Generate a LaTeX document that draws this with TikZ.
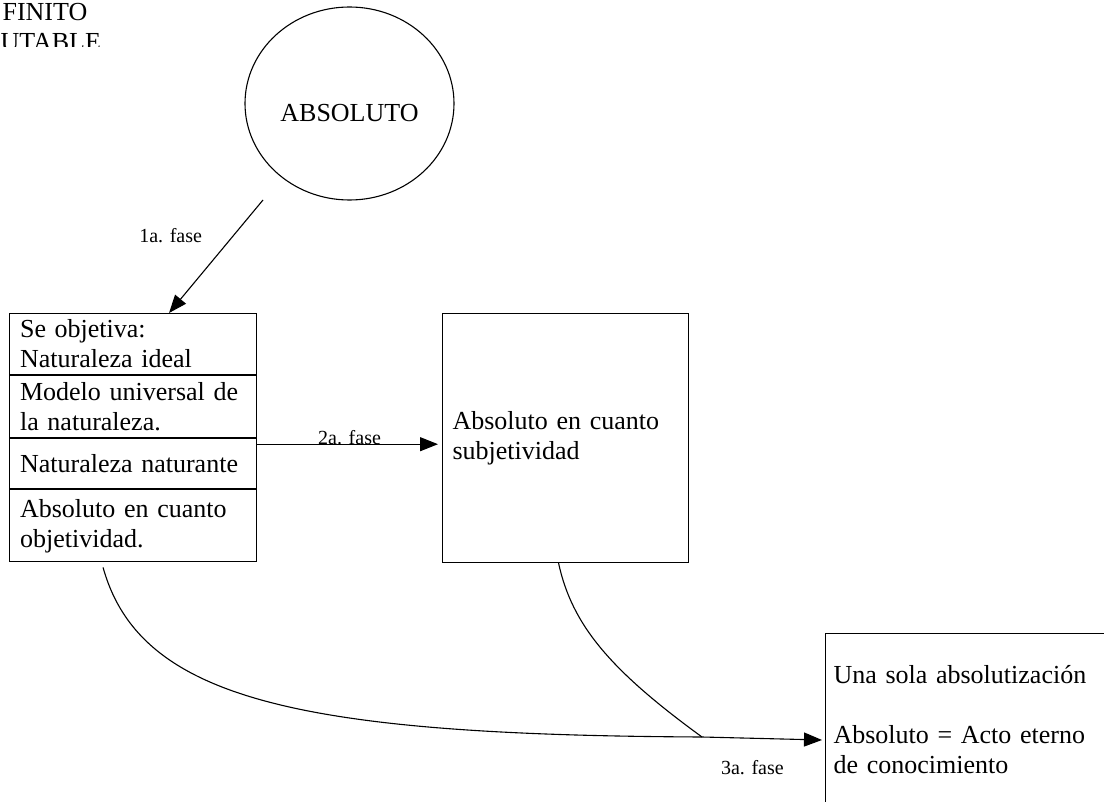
\documentclass[tikz,border=0pt]{standalone}
\usepackage{fontspec}
\setmainfont{Liberation Serif}
\usepackage{tikz}
\usetikzlibrary{positioning,arrows.meta,shapes.geometric}

\begin{document}
\begin{tikzpicture}[x=1pt,y=-1pt,line width=1.1pt,
  every node/.style={font=\fontsize{26}{30}\selectfont},
  caja/.style={draw,rectangle,align=left,inner xsep=10pt,inner ysep=0pt,text width=226pt,minimum width=247pt},
  fase/.style={font=\fontsize{20}{24}\selectfont,inner sep=0pt},
  flecha/.style={-{Triangle[length=18pt,width=14pt]}},
  node distance=0pt]
  \clip (0,0) rectangle (1104,802);
  \begin{scope}
    \clip (0,0) rectangle (200,47);
    \node[anchor=base west,inner sep=0pt] (inf) at (2,21) {FINITO};
    \node[anchor=base west,inner sep=0pt] (inm) at (0,51) {UTABLE};
  \end{scope}
  \node[draw,ellipse,minimum width=209pt,minimum height=193pt,text height=36pt,text depth=0pt] (abs) at (349.5,103.5) {ABSOLUTO};
  \node[caja,minimum height=61pt,anchor=north west] (r1) at (9,313) {Se objetiva:\\Naturaleza ideal};
  \node[caja,minimum height=62pt,below=of r1] (r2) {Modelo universal de\\la naturaleza.};
  \node[caja,minimum height=50pt,below=of r2] (r3) {Naturaleza naturante};
  \node[caja,minimum height=72pt,below=of r3] (r4) {Absoluto en cuanto\\objetividad.};
  \node[caja,minimum height=249pt,minimum width=246pt,anchor=north west] (subj) at (442,313) {Absoluto en cuanto\\subjetividad};
  \node[caja,minimum height=172pt,minimum width=300pt,inner xsep=8pt,text width=284pt,anchor=north west] (uno) at (825,633) {Una sola absolutización\\[30pt]Absoluto = Acto eterno\\de conocimiento};
  \coordinate (ini) at (263,200);
  \coordinate (s2) at ([yshift=-6pt]r3.north east);
  \coordinate (cruce) at (702,737);
  \draw[flecha] (ini) -- node[fase,pos=0.377,anchor=base east,xshift=-25pt] {1a. fase} ([xshift=36pt]r1.north);
  \draw[flecha,shorten >=4pt] (s2) -- node[fase,anchor=base] {2a. fase} (s2 -| subj.west);
  \draw[flecha] ([xshift=-30pt,yshift=-5pt]r4.south) .. controls (140,700) and (300,735) .. (cruce)
    -- node[fase,anchor=base,pos=0.42,yshift=-36pt] {3a. fase} ([xshift=-3pt,yshift=-107pt]uno.north west);
  \draw ([xshift=-7pt]subj.south) .. controls (572,625) and (610,670) .. (cruce);
\end{tikzpicture}
\end{document}
